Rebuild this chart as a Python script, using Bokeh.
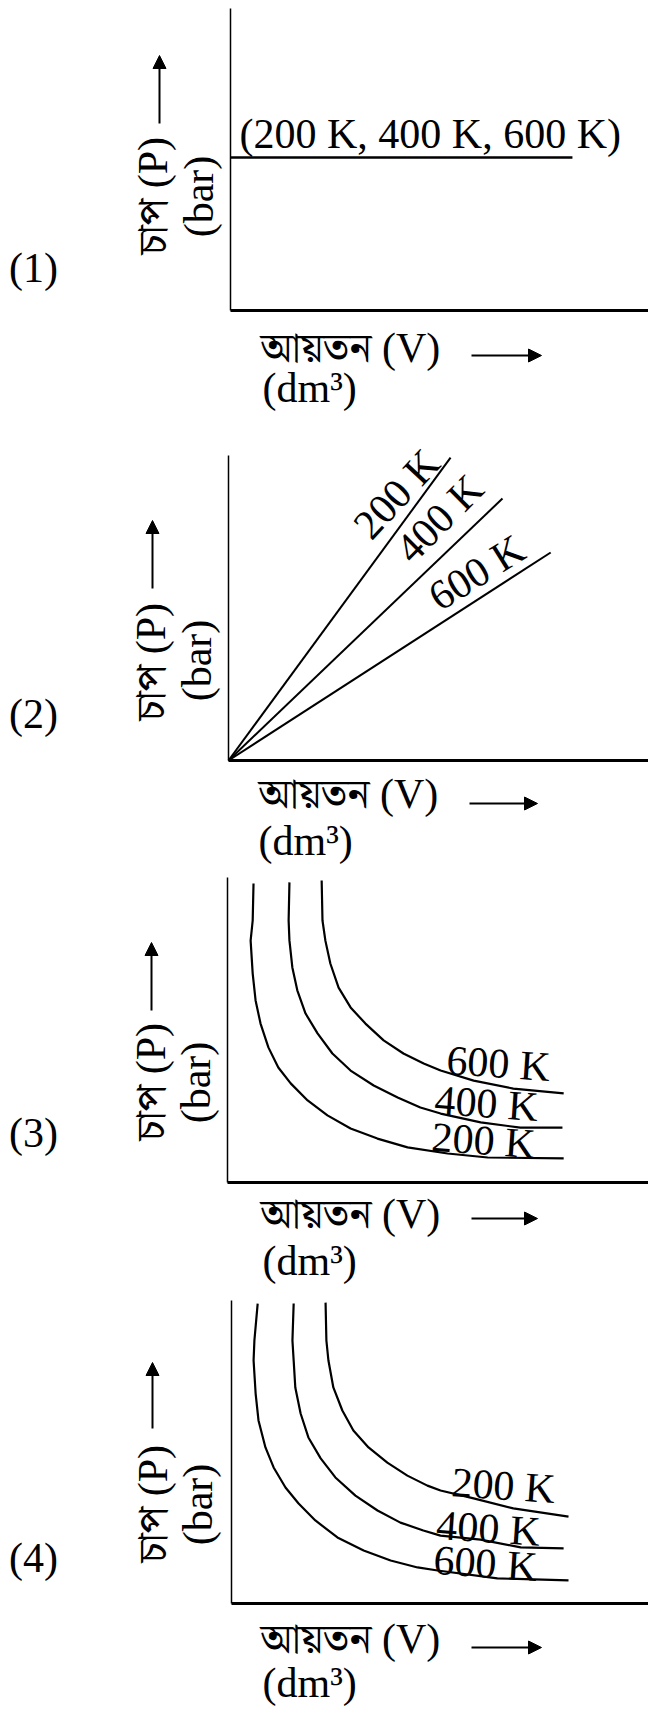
from bokeh.plotting import figure
from bokeh.models import Label, Arrow, NormalHead, Range1d, FixedTicker
from bokeh.layouts import column
from bokeh.embed import file_html
from bokeh.resources import INLINE

SERIF = "'Liberation Serif', 'Noto Serif Bengali', 'Noto Sans Bengali', 'Lohit Bengali', serif"
FS = "42px"

# ---------------- texts ----------------
panel_numbers = ["(1)", "(2)", "(3)", "(4)"]
y_title = "চাপ (P)"
y_unit = "(bar)"
x_title = "আয়তন (V)"
x_unit = "(dm³)"
temps = ["200 K", "400 K", "600 K"]

# ---------------- data (V, P in arbitrary units) ----------------
# Panel 1: one horizontal line for all temperatures
p1_V = [0.0, 8.34]
p1_P = [5.07, 5.07]
p1_label = "(200 K, 400 K, 600 K)"
p1_label_V = 0.22
p1_label_P = 5.84

# Panel 2: straight lines through origin (200 K, 400 K, 600 K)
p2_V_end = [5.39, 6.65, 7.82]
p2_P_end = [9.93, 8.59, 6.82]
p2_label_V = [4.08, 5.12, 6.02]
p2_label_P = [8.74, 7.93, 6.16]
p2_label_angle = [47, 45, 32]

# Panel 3: hyperbolas, 600 K outermost
p3_V_200 = [0.63, 0.61, 0.56, 0.61, 0.68, 0.80, 0.99, 1.23, 1.53, 1.94, 2.42, 2.98, 3.63, 4.36, 5.33, 6.30, 8.14]
p3_P_200 = [9.80, 8.59, 7.93, 6.85, 5.97, 5.21, 4.43, 3.77, 3.25, 2.69, 2.20, 1.77, 1.44, 1.15, 0.95, 0.82, 0.79]
p3_V_400 = [1.50, 1.48, 1.50, 1.57, 1.69, 1.89, 2.18, 2.54, 2.98, 3.54, 4.12, 4.67, 5.16, 6.13, 7.09, 8.11]
p3_P_400 = [9.84, 8.59, 7.93, 7.05, 6.30, 5.54, 4.89, 4.23, 3.67, 3.18, 2.79, 2.46, 2.26, 1.97, 1.80, 1.80]
p3_V_600 = [2.28, 2.30, 2.37, 2.49, 2.69, 2.98, 3.34, 3.78, 4.26, 4.75, 5.16, 5.96, 6.92, 8.14]
p3_P_600 = [9.90, 8.59, 7.93, 7.18, 6.39, 5.74, 5.21, 4.66, 4.23, 3.90, 3.67, 3.34, 3.08, 2.92]
p3_label_V = [6.20, 6.27, 6.56]
p3_label_P = [1.38, 2.59, 3.90]

# Panel 4: hyperbolas, 200 K outermost
p4_V_200 = [2.30, 2.32, 2.37, 2.49, 2.71, 2.98, 3.35, 3.81, 4.30, 4.79, 5.11, 5.92, 6.89, 8.24]
p4_P_200 = [9.93, 8.68, 8.02, 7.13, 6.37, 5.71, 5.15, 4.65, 4.22, 3.89, 3.73, 3.47, 3.14, 2.87]
p4_V_400 = [1.52, 1.49, 1.52, 1.56, 1.69, 1.88, 2.18, 2.54, 3.03, 3.57, 4.13, 4.69, 5.11, 6.09, 7.07, 8.12]
p4_P_400 = [9.90, 8.68, 8.02, 7.13, 6.27, 5.48, 4.79, 4.16, 3.56, 3.07, 2.67, 2.41, 2.24, 2.11, 1.85, 1.82]
p4_V_600 = [0.64, 0.56, 0.54, 0.59, 0.66, 0.83, 1.03, 1.32, 1.64, 2.05, 2.59, 3.23, 3.89, 4.55, 5.04, 6.50, 8.24]
p4_P_600 = [9.90, 8.68, 8.02, 6.93, 6.04, 5.15, 4.49, 3.83, 3.30, 2.74, 2.18, 1.75, 1.42, 1.19, 1.09, 0.83, 0.76]
p4_label_V = [6.65, 6.28, 6.21]
p4_label_P = [3.89, 2.48, 1.32]

label_tilt = -4

# ---------------- layout (page geometry; label offsets from the axes' origin) ----------------
PAGE_W = 648
layouts = [
    dict(T=0, H=425, FL=230, FT=8, FB=310, sx=41.0, num=(-197, 43), yt=(-78, 56), yu=(-32, 114),
         ya=(-71, 187, 255), xt=(30, -37), xa=(241, 311, -45), xu=(32, -77)),
    dict(T=425, H=443, FL=228, FT=455, FB=760, sx=41.2, num=(-195, 47), yt=(-78, 40), yu=(-32, 100),
         ya=(-76, 172, 240), xt=(30, -33), xa=(241, 309, -43), xu=(30, -80)),
    dict(T=868, H=422, FL=227, FT=877, FB=1182, sx=41.3, num=(-194, 50), yt=(-77, 42), yu=(-32, 100),
         ya=(-76, 172, 240), xt=(33, -31), xa=(244, 310, -36), xu=(35, -78)),
    dict(T=1290, H=420, FL=231, FT=1300, FB=1603, sx=40.9, num=(-198, 46), yt=(-79, 41), yu=(-34, 99),
         ya=(-79, 175, 241), xt=(29, -35), xa=(240, 310, -44), xu=(31, -79)),
]


def lab(**kw):
    base = dict(text_font=SERIF, text_font_size=FS, text_color="black")
    base.update(kw)
    return Label(**base)


def arrow_head():
    return NormalHead(size=13, fill_color="black", line_color="black", line_width=1)


def make_panel(i):
    lay = layouts[i]
    sx = lay["sx"]
    sy = (lay["FB"] - lay["FT"]) / 10.0
    x0 = -lay["FL"] / sx
    x1 = (PAGE_W - lay["FL"]) / sx
    y1 = 10 + (lay["FT"] - lay["T"]) / sy
    y0 = -(lay["T"] + lay["H"] - lay["FB"]) / sy
    p = figure(width=PAGE_W, height=lay["H"], x_range=Range1d(x0, x1), y_range=Range1d(y0, y1),
               output_backend="svg", toolbar_location=None,
               min_border_left=0, min_border_right=0, min_border_top=0, min_border_bottom=0)
    p.grid.visible = False
    p.outline_line_color = None
    p.background_fill_color = "white"
    p.border_fill_color = "white"
    for ax in (p.xaxis[0], p.yaxis[0]):
        ax.ticker = FixedTicker(ticks=[])
        ax.major_tick_line_color = None
        ax.minor_tick_line_color = None
        ax.major_label_text_font_size = "0px"
        ax.axis_line_color = "black"
        ax.fixed_location = 0
    p.xaxis[0].bounds = (0, x1)
    p.yaxis[0].bounds = (0, 10)
    p.xaxis[0].axis_line_width = 3
    p.yaxis[0].axis_line_width = 1.5

    ox = lay["FL"]                              # origin, screen px from left
    oy = lay["T"] + lay["H"] - lay["FB"]        # origin, screen px from bottom

    def S(rx, ry):
        return dict(x=ox + rx, y=oy + ry, x_units="screen", y_units="screen")

    p.add_layout(lab(text=panel_numbers[i], text_align="center", text_baseline="middle", **S(*lay["num"])))
    p.add_layout(lab(text=y_title, angle=90, angle_units="deg",
                     text_align="left", text_baseline="middle", **S(*lay["yt"])))
    p.add_layout(lab(text=y_unit, angle=90, angle_units="deg",
                     text_align="center", text_baseline="middle", **S(*lay["yu"])))
    ya = lay["ya"]
    p.add_layout(Arrow(end=arrow_head(),
                       x_start=ox + ya[0], y_start=oy + ya[1], x_end=ox + ya[0], y_end=oy + ya[2],
                       start_units="screen", end_units="screen",
                       line_color="black", line_width=2))
    p.add_layout(lab(text=x_title, text_align="left", text_baseline="middle", **S(*lay["xt"])))
    p.add_layout(lab(text=x_unit, text_align="left", text_baseline="middle", **S(*lay["xu"])))
    xa = lay["xa"]
    p.add_layout(Arrow(end=arrow_head(),
                       x_start=ox + xa[0], y_start=oy + xa[2], x_end=ox + xa[1], y_end=oy + xa[2],
                       start_units="screen", end_units="screen",
                       line_color="black", line_width=2))
    return p


# Panel 1
f1 = make_panel(0)
f1.line(p1_V, p1_P, line_color="black", line_width=2.5)
f1.add_layout(lab(x=p1_label_V, y=p1_label_P, text=p1_label, text_align="left", text_baseline="middle"))

# Panel 2
f2 = make_panel(1)
for k in range(3):
    f2.line([0, p2_V_end[k]], [0, p2_P_end[k]], line_color="black", line_width=2)
    f2.add_layout(lab(x=p2_label_V[k], y=p2_label_P[k], text=temps[k], angle=p2_label_angle[k],
                      angle_units="deg", text_align="center", text_baseline="middle"))

# Panel 3
f3 = make_panel(2)
for V, P in ((p3_V_200, p3_P_200), (p3_V_400, p3_P_400), (p3_V_600, p3_P_600)):
    f3.line(V, P, line_color="black", line_width=2.2, line_join="round")
for k in range(3):
    f3.add_layout(lab(x=p3_label_V[k], y=p3_label_P[k], text=temps[k], angle=label_tilt,
                      angle_units="deg", text_align="center", text_baseline="middle"))

# Panel 4
f4 = make_panel(3)
for V, P in ((p4_V_200, p4_P_200), (p4_V_400, p4_P_400), (p4_V_600, p4_P_600)):
    f4.line(V, P, line_color="black", line_width=2.2, line_join="round")
for k in range(3):
    f4.add_layout(lab(x=p4_label_V[k], y=p4_label_P[k], text=temps[k], angle=label_tilt,
                      angle_units="deg", text_align="center", text_baseline="middle"))

layout = column(f1, f2, f3, f4, spacing=0)
open("out.html", "w").write(file_html(layout, INLINE))
